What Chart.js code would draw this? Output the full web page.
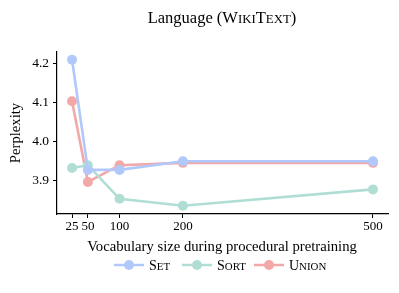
<!DOCTYPE html>
<html>
<head>
<meta charset="utf-8">
<script src="https://cdn.jsdelivr.net/npm/chart.js@4/dist/chart.umd.min.js"></script>
<style>
  html, body { margin: 0; padding: 0; background: #fff; }
</style>
</head>
<body>
<canvas id="chart" width="399" height="293"></canvas>
<script>
const vocabSizes = [25, 50, 100, 200, 500];
const setPerplexity = [4.209, 3.927, 3.927, 3.949, 3.949];
const sortPerplexity = [3.932, 3.939, 3.853, 3.835, 3.877];
const unionPerplexity = [4.103, 3.896, 3.939, 3.945, 3.945];
const yTicks = [3.9, 4.0, 4.1, 4.2];

const SERIF = '"Liberation Serif", "DejaVu Serif", serif';
const colors = {
    set: 'rgb(176,201,250)',
    sort: 'rgb(176,222,212)',
    union: 'rgb(243,168,168)',
};

const toPoints = vals => vocabSizes.map((v, i) => ({ x: v, y: vals[i] }));

// split text so lowercase letters become small capitals
function smallCapsParts(text) {
    const parts = [];
    for (const ch of text) {
        const small = ch !== ch.toUpperCase();
        const last = parts[parts.length - 1];
        if (last && last.small === small) last.t += ch;
        else parts.push({ t: ch, small });
    }
    return parts;
}

function measureParts(ctx, parts, size) {
    let w = 0;
    parts.forEach(p => {
        ctx.font = (p.small ? size * 0.78 : size) + 'px ' + SERIF;
        w += ctx.measureText(p.small ? p.t.toUpperCase() : p.t).width;
    });
    return w;
}

function drawParts(ctx, parts, x, y, size) {
    ctx.textAlign = 'left';
    ctx.textBaseline = 'alphabetic';
    parts.forEach(p => {
        ctx.font = (p.small ? size * 0.78 : size) + 'px ' + SERIF;
        const t = p.small ? p.t.toUpperCase() : p.t;
        ctx.fillText(t, x, y);
        x += ctx.measureText(t).width;
    });
    return x;
}

const labelsPlugin = {
    id: 'labels',
    afterDraw(chart) {
        const { ctx } = chart;
        ctx.save();
        ctx.fillStyle = '#000';

        // title
        const titleParts = [{ t: 'Language (', small: false }]
            .concat(smallCapsParts('WikiText'))
            .concat([{ t: ')', small: false }]);
        const tw = measureParts(ctx, titleParts, 16.5);
        drawParts(ctx, titleParts, 222 - tw / 2, 23, 16.5);

        // axis titles
        ctx.font = '14.7px ' + SERIF;
        ctx.textAlign = 'center';
        ctx.textBaseline = 'middle';
        ctx.fillText('Vocabulary size during procedural pretraining', 222, 247);

        ctx.save();
        ctx.translate(16, 133);
        ctx.rotate(-Math.PI / 2);
        ctx.fillText('Perplexity', 0, 0);
        ctx.restore();

        // legend
        const items = [
            { name: 'Set', color: colors.set, x: 114 },
            { name: 'Sort', color: colors.sort, x: 182 },
            { name: 'Union', color: colors.union, x: 254 },
        ];
        const ly = 265;
        items.forEach(it => {
            ctx.strokeStyle = it.color;
            ctx.lineWidth = 2.5;
            ctx.beginPath();
            ctx.moveTo(it.x, ly);
            ctx.lineTo(it.x + 30, ly);
            ctx.stroke();
            ctx.fillStyle = it.color;
            ctx.beginPath();
            ctx.arc(it.x + 15, ly, 5, 0, Math.PI * 2);
            ctx.fill();
            ctx.fillStyle = '#000';
            drawParts(ctx, smallCapsParts(it.name), it.x + 35, ly + 5, 14);
        });
        ctx.restore();
    },
};

const makeDataset = (label, vals, color) => ({
    label,
    data: toPoints(vals),
    borderColor: color,
    backgroundColor: color,
    pointBackgroundColor: color,
    pointBorderWidth: 0,
    pointRadius: 5,
    pointHoverRadius: 5,
    borderWidth: 2.6,
    tension: 0,
});

new Chart(document.getElementById('chart'), {
    type: 'line',
    data: {
        datasets: [
            makeDataset('Set', setPerplexity, colors.set),
            makeDataset('Sort', sortPerplexity, colors.sort),
            makeDataset('Union', unionPerplexity, colors.union),
        ],
    },
    options: {
        responsive: false,
        animation: false,
        layout: { padding: { left: 0, top: 52, right: 11, bottom: 0 } },
        plugins: {
            legend: { display: false },
            tooltip: { enabled: false },
        },
        scales: {
            x: {
                type: 'linear',
                min: 1.25,
                max: 523.75,
                afterBuildTicks: scale => {
                    scale.ticks = vocabSizes.map(v => ({ value: v }));
                },
                afterFit: scale => { scale.height = 79; },
                ticks: {
                    color: '#000',
                    font: { family: SERIF, size: 13 },
                    padding: 1,
                    maxRotation: 0,
                    autoSkip: false,
                    callback: v => String(v),
                },
                grid: {
                    drawOnChartArea: false,
                    drawTicks: true,
                    tickLength: 4,
                    color: '#000',
                    tickColor: '#000',
                },
                border: { color: '#000', width: 1.2 },
            },
            y: {
                min: 3.814,
                max: 4.229,
                afterBuildTicks: scale => {
                    scale.ticks = yTicks.map(v => ({ value: v }));
                },
                afterFit: scale => { scale.width = 57; },
                ticks: {
                    color: '#000',
                    font: { family: SERIF, size: 13.5 },
                    padding: 4,
                    callback: v => v.toFixed(1),
                },
                grid: {
                    drawOnChartArea: false,
                    drawTicks: true,
                    tickLength: 4,
                    color: '#000',
                    tickColor: '#000',
                },
                border: { color: '#000', width: 1.2 },
            },
        },
    },
    plugins: [labelsPlugin],
});
</script>
</body>
</html>
